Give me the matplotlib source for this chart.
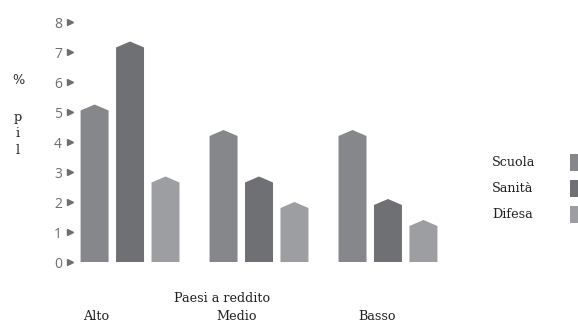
import matplotlib
matplotlib.use('Agg')
import matplotlib.pyplot as plt
from matplotlib.patches import Polygon, Rectangle
from matplotlib.transforms import blended_transform_factory

# spesa pubblica in % del pil per fascia di reddito
groups = ['Alto', 'Medio', 'Basso']
series = ['Scuola', 'Sanità', 'Difesa']
scuola = [5.05, 4.2, 4.2]
sanita = [7.15, 2.65, 1.9]
difesa = [2.65, 1.8, 1.2]
yticks = [0, 1, 2, 3, 4, 5, 6, 7, 8]

colors = ['#86878b', '#6f7074', '#9d9ea2']
serif = 'DejaVu Serif'
fs = 9.2

W, H = 578, 324
fig = plt.figure(figsize=(W / 100, H / 100), dpi=100)
# axes box in pixel terms: x 76..470, y 22..262 (0..8)
ax = fig.add_axes([76 / W, (H - 262) / H, (470 - 76) / W, (262 - 22) / H])
ax.set_xlim(-0.419, 2.636)
ax.set_ylim(0, 8)

pitch = 0.275
width = 0.217
tip = 0.2
for j, vals in enumerate([scuola, sanita, difesa]):
    for i, v in enumerate(vals):
        xc = i + (j - 1) * pitch
        x0, x1 = xc - width / 2, xc + width / 2
        pts = [(x0, 0), (x0, v), (xc, v + tip), (x1, v), (x1, 0)]
        ax.add_patch(Polygon(pts, closed=True, facecolor=colors[j],
                             edgecolor='none'))

for s in ax.spines.values():
    s.set_visible(False)
ax.set_xticks([])
ax.set_yticks(yticks)
ax.set_yticklabels([str(t) for t in yticks])
ax.tick_params(axis='y', length=0, pad=10, labelsize=10, labelcolor='#6d6e71')
for lab in ax.get_yticklabels():
    lab.set_family('Open Sans')

# triangle markers beside the tick numbers
tr = blended_transform_factory(fig.transFigure, ax.transData)
ax.plot([70 / W] * len(yticks), yticks, linestyle='none', marker='>',
        markersize=4, color='#6d6e71', transform=tr, clip_on=False)

# y label written one letter per line
fig.text(18 / W, 1 - 80 / H, '%', family=serif, fontsize=fs,
         ha='center', va='center', color='#231f20')
for k, ch in enumerate('pil'):
    fig.text(18 / W, 1 - (117 + 16.5 * k) / H, ch, family=serif, fontsize=fs,
             ha='center', va='center', color='#231f20')

fig.text(222 / W, 1 - 299 / H, 'Paesi a reddito', family=serif, fontsize=fs,
         ha='center', va='center', color='#231f20')
for g, xp in zip(groups, [96, 237, 377]):
    fig.text(xp / W, 1 - 317 / H, g, family=serif, fontsize=fs,
             ha='center', va='center', color='#231f20')

# legend on the right edge
for k, (name, c) in enumerate(zip(series, colors)):
    yc = 1 - (163 + 26 * k) / H
    fig.text(492 / W, yc, name, family=serif, fontsize=fs,
             ha='left', va='center', color='#231f20')
    fig.add_artist(Rectangle((570 / W, yc - 8 / H), 12 / W, 17 / H,
                             transform=fig.transFigure, facecolor=c,
                             edgecolor='none'))

fig.savefig('out.png', dpi=100)
